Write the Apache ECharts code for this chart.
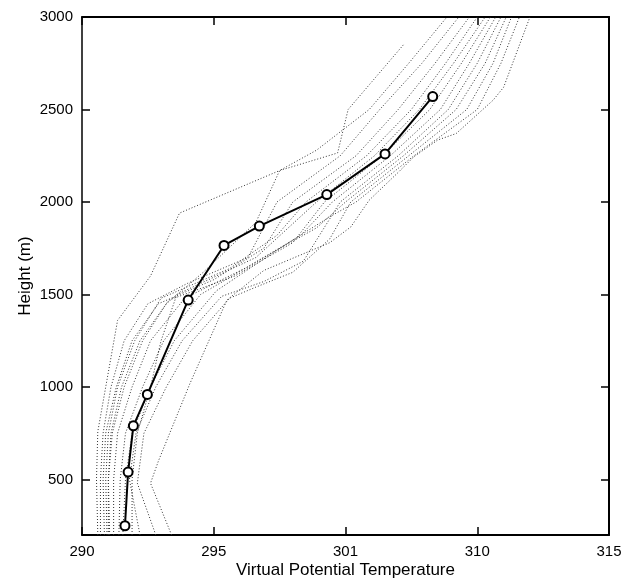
<!DOCTYPE html>
<html>
<head>
<meta charset="utf-8">
<script src="https://cdn.jsdelivr.net/npm/echarts@6/dist/echarts.min.js"></script>
<style>html,body{margin:0;padding:0;background:#fff}#c{width:622px;height:580px}</style>
</head>
<body>
<div id="c"></div>
<script>
// x tick positions (axis units) and the labels printed on them
var xTickValues = [290, 295, 300, 305, 310];
var xTickLabels = ['290', '295', '301', '310', '315'];
var yTickValues = [500, 1000, 1500, 2000, 2500, 3000];

// mean profile: [temperature, height]
var meanTemp   = [291.63, 291.75, 291.95, 292.48, 294.03, 295.39, 296.73, 299.29, 301.5, 303.31];
var meanHeight = [250, 540, 790, 960, 1470, 1765, 1870, 2040, 2260, 2570];

// individual soundings: [temperature, height]
var g1  = [[290.6,200],[290.55,500],[290.6,760],[291.35,1360],[292.6,1600],[293.7,1940],[297.5,2170],[299.7,2265],[300.1,2500],[302.2,2850]];
var g2  = [[290.7,200],[290.7,500],[290.8,750],[291.1,1000],[291.6,1250],[292.5,1450],[294.0,1560],[296.3,1700],[297.4,2000],[299.8,2250],[301.3,2500],[302.9,2750],[304.3,3000]];
var g3  = [[290.85,200],[290.8,500],[290.9,750],[291.3,1000],[291.9,1250],[292.9,1450],[295.0,1580],[296.9,1750],[298.0,2000],[300.4,2250],[302.0,2500],[303.4,2750],[304.7,3000]];
var g4  = [[291.0,200],[291.0,500],[291.1,750],[291.5,1000],[292.2,1250],[293.3,1470],[295.8,1600],[298.0,1780],[299.2,2000],[301.4,2250],[303.2,2500],[304.4,2750],[305.5,3000]];
var g5  = [[291.2,200],[291.2,500],[291.35,750],[291.9,1000],[292.6,1250],[293.9,1480],[296.3,1650],[298.3,1820],[299.5,2000],[301.7,2250],[303.6,2500],[304.7,2750],[305.7,3000]];
var g6  = [[291.4,200],[291.45,500],[291.65,750],[292.3,1000],[293.1,1250],[294.5,1500],[296.9,1700],[298.9,1860],[300.0,2000],[302.2,2250],[304.2,2500],[305.3,2750],[306.1,3000]];
var g7  = [[291.55,200],[291.65,500],[291.9,750],[292.6,1000],[293.5,1250],[295.1,1520],[297.4,1740],[299.4,1920],[300.4,2000],[302.6,2250],[305.0,2500],[305.9,2750],[306.6,3000]];
var g8  = [[292.2,200],[291.8,500],[292.05,750],[292.8,1000],[293.8,1250],[295.3,1490],[296.9,1570],[298.4,1680],[299.8,2000],[302.0,2250],[303.9,2500],[305.0,2750],[305.9,3000]];
var g9  = [[292.8,200],[292.1,480],[292.35,750],[293.2,1000],[294.2,1250],[295.6,1480],[296.6,1540],[298.0,1620],[299.4,1800],[300.2,2000],[302.4,2250],[304.6,2500],[305.6,2750],[306.3,3000]];
var g10 = [[293.4,200],[292.6,480],[292.9,600],[294.1,1020],[295.5,1470],[296.9,1630],[299.4,1780],[300.2,1865],[300.9,2010],[302.0,2160],[302.6,2245],[303.5,2335],[304.2,2370],[305.6,2550],[306.0,2620],[307.0,3000]];
var g11 = [[291.9,200],[291.9,500],[292.1,750],[292.6,1000],[293.0,1250],[293.6,1500],[294.8,1580],[296.6,1700],[298.9,2000],[301.1,2250],[302.8,2500],[304.1,2750],[305.3,3000]];
var g12 = [[291.05,200],[291.0,500],[291.15,750],[291.6,1000],[292.3,1250],[293.2,1450],[294.6,1620],[296.6,1890],[297.5,2170],[298.9,2280],[300.9,2500],[302.4,2750],[303.85,3000]];
var g13 = [[290.95,200],[290.9,500],[291.0,750],[291.35,1000],[292.0,1250],[293.0,1480],[295.6,1640],[297.4,1820],[298.5,2000],[300.8,2250],[302.5,2500],[303.8,2750],[305.0,3000]];

var soundings = [g1, g2, g3, g4, g5, g6, g7, g8, g9, g10, g11, g12, g13];

var FONT = 'Liberation Sans, Arial, Helvetica, sans-serif';
var chart = echarts.init(document.getElementById('c'), null, {renderer: 'canvas'});

var series = soundings.map(function (s) {
  return {
    type: 'line', data: s, symbol: 'none', silent: true, clip: true,
    lineStyle: {color: '#333333', width: 1, type: [1, 2]}
  };
});
series.push({
  type: 'line',
  data: meanTemp.map(function (t, i) { return [t, meanHeight[i]]; }),
  symbol: 'emptyCircle', symbolSize: 9, z: 5,
  lineStyle: {color: '#000', width: 2},
  itemStyle: {color: '#000', borderColor: '#000', borderWidth: 2}
});

function fmtX(v) {
  var i = xTickValues.indexOf(v);
  return i >= 0 ? xTickLabels[i] : '';
}
function fmtY(v) { return String(v); }

var tickStyle = {show: true, inside: true, length: 8, lineStyle: {color: '#000', width: 1.5}};

chart.setOption({
  animation: false,
  backgroundColor: '#fff',
  grid: {left: 82, right: 13, top: 17, bottom: 45, containLabel: false, outerBoundsMode: 'none'},
  xAxis: [{
    type: 'value', min: 290, max: 310, interval: 5, position: 'bottom',
    name: 'Virtual Potential Temperature', nameLocation: 'middle', nameGap: 27, nameMoveOverlap: false,
    nameTextStyle: {fontSize: 17, color: '#000', fontFamily: FONT},
    axisLine: {show: true, onZero: false, lineStyle: {color: '#000', width: 2}},
    axisTick: tickStyle,
    axisLabel: {color: '#000', fontSize: 15, fontFamily: FONT, margin: 9, formatter: fmtX},
    splitLine: {show: false}
  }, {
    type: 'value', min: 290, max: 310, interval: 5, position: 'top',
    axisLine: {show: true, onZero: false, lineStyle: {color: '#000', width: 2}},
    axisTick: tickStyle, axisLabel: {show: false}, splitLine: {show: false}
  }],
  yAxis: [{
    type: 'value', min: 200, max: 3000, position: 'left',
    name: 'Height (m)', nameLocation: 'middle', nameGap: 48, nameRotate: 90, nameMoveOverlap: false,
    nameTextStyle: {fontSize: 17, color: '#000', fontFamily: FONT},
    axisLine: {show: true, onZero: false, lineStyle: {color: '#000', width: 1.5}},
    axisTick: Object.assign({customValues: yTickValues}, tickStyle),
    axisLabel: {color: '#000', fontSize: 15, fontFamily: FONT, margin: 9, customValues: yTickValues, formatter: fmtY},
    splitLine: {show: false}
  }, {
    type: 'value', min: 200, max: 3000, position: 'right',
    axisLine: {show: true, onZero: false, lineStyle: {color: '#000', width: 2}},
    axisTick: Object.assign({customValues: yTickValues}, tickStyle),
    axisLabel: {show: false}, splitLine: {show: false}
  }],
  series: series
});
</script>
</body>
</html>
